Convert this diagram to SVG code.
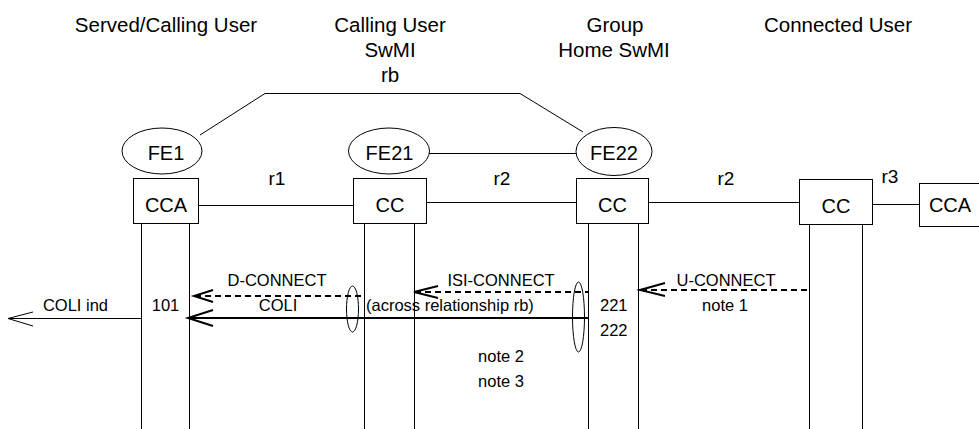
<svg xmlns="http://www.w3.org/2000/svg" width="979" height="429" viewBox="0 0 979 429">
<style>
text{font-family:"Liberation Sans",Arial,sans-serif;fill:#000;text-anchor:middle}
.h{font-size:20.5px}
.n{font-size:20px}
.r{font-size:19px}
.m{font-size:16.5px}
.s{text-anchor:start}
.ln{stroke:#000;stroke-width:1;fill:none}
.box{stroke:#000;stroke-width:1;fill:#fff}
.dash{stroke:#000;stroke-width:2;stroke-dasharray:6,4;fill:none}
.thick{stroke:#000;stroke-width:2;fill:none}
.ah{stroke:#000;stroke-width:2;fill:none}
.ahthin{stroke:#000;stroke-width:1;fill:none}
</style>
<rect width="979" height="429" fill="#fff"/>
<g id="headers">
<text class="h" x="166" y="32">Served/Calling User</text>
<text class="h" x="390" y="32">Calling User</text>
<text class="h" x="390" y="57">SwMI</text>
<text class="h" x="390" y="82">rb</text>
<text class="h" x="615" y="32">Group</text>
<text class="h" x="614" y="57">Home SwMI</text>
<text class="h" x="838" y="32">Connected User</text>
</g>
<g id="connectors">
<polyline class="ln" points="200,135 265,93.5 520,93.5 583,132"/>
<line class="ln" x1="429" y1="153.5" x2="576" y2="153.5"/>
<line class="ln" x1="198" y1="205.5" x2="353" y2="205.5"/>
<line class="ln" x1="426" y1="202.5" x2="576" y2="202.5"/>
<line class="ln" x1="648" y1="202.5" x2="799" y2="202.5"/>
<line class="ln" x1="872" y1="204.5" x2="919" y2="204.5"/>
<text class="r" x="277" y="185">r1</text>
<text class="r" x="502" y="185">r2</text>
<text class="r" x="726" y="185">r2</text>
<text class="r" x="890" y="183">r3</text>
<line class="ln" x1="141.5" y1="223" x2="141.5" y2="429"/>
<line class="ln" x1="189.5" y1="223" x2="189.5" y2="429"/>
<line class="ln" x1="364.5" y1="223" x2="364.5" y2="429"/>
<line class="ln" x1="414.5" y1="223" x2="414.5" y2="429"/>
<line class="ln" x1="588.5" y1="223" x2="588.5" y2="429"/>
<line class="ln" x1="638.5" y1="223" x2="638.5" y2="429"/>
<line class="ln" x1="809.5" y1="224" x2="809.5" y2="429"/>
<line class="ln" x1="862.5" y1="224" x2="862.5" y2="429"/>
<line class="dash" x1="195" y1="296" x2="364" y2="296"/>
<polyline class="ah" points="213,290 194,296 213,302"/>
<line class="dash" x1="415" y1="292" x2="588" y2="292"/>
<polyline class="ah" points="438,286 414,292 438,298"/>
<line class="dash" x1="641" y1="290" x2="809" y2="290"/>
<polyline class="ah" points="665,283 640,290 665,296"/>
<line class="thick" x1="188" y1="318" x2="588" y2="318"/>
<polyline class="ah" points="213,310 188,318 213,326"/>
<line class="ln" x1="8" y1="318.5" x2="141" y2="318.5"/>
<polyline class="ahthin" points="33,312 8,318.5 33,326"/>
<ellipse class="ln" cx="352.5" cy="309" rx="6" ry="23"/>
<ellipse class="ln" cx="578.5" cy="317" rx="6" ry="35"/>
<text class="m" x="277" y="286">D-CONNECT</text>
<text class="m" x="278" y="311">COLI</text>
<text class="m" x="501" y="286">ISI-CONNECT</text>
<text class="m s" x="366" y="311">(across relationship rb)</text>
<text class="m" x="726" y="286">U-CONNECT</text>
<text class="m" x="725" y="311">note 1</text>
<text class="m" x="75.5" y="311">COLI ind</text>
<text class="m" x="165.5" y="311">101</text>
<text class="m s" x="600" y="311">221</text>
<text class="m s" x="600" y="336">222</text>
<text class="m" x="501" y="362">note 2</text>
<text class="m" x="501" y="387">note 3</text>
</g>
<g id="FE1">
<ellipse class="ln" cx="162" cy="151" rx="40" ry="23"/>
<text class="n" x="166" y="160">FE1</text>
</g>
<g id="FE21">
<ellipse class="ln" cx="389" cy="151" rx="40.5" ry="23"/>
<text class="n" x="389.5" y="160">FE21</text>
</g>
<g id="FE22">
<ellipse class="ln" cx="614" cy="151.5" rx="38" ry="24"/>
<text class="n" x="614" y="160">FE22</text>
</g>
<g id="CCA1">
<rect class="box" x="133.5" y="178.5" width="65" height="45"/>
<text class="n" x="166" y="212">CCA</text>
</g>
<g id="CC1">
<rect class="box" x="353.5" y="178.5" width="73" height="45"/>
<text class="n" x="390" y="212">CC</text>
</g>
<g id="CC2">
<rect class="box" x="576.5" y="178.5" width="72" height="45"/>
<text class="n" x="612.5" y="212">CC</text>
</g>
<g id="CC3">
<rect class="box" x="799.5" y="179.5" width="73" height="45"/>
<text class="n" x="836" y="213">CC</text>
</g>
<g id="CCA2">
<rect class="box" x="919.5" y="183.5" width="70" height="43"/>
<text class="n" x="950" y="212">CCA</text>
</g>
</svg>
